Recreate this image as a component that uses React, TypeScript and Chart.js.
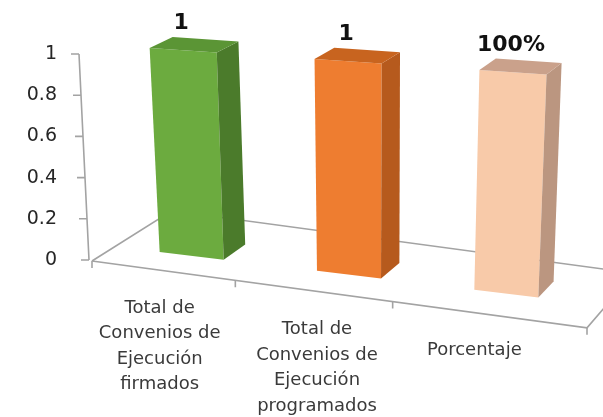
import React, { useEffect, useRef } from "react";
import { Chart, registerables } from "chart.js";

Chart.register(...registerables);

// ---- data ----
const categories: string[][] = [
  ["Total de", "Convenios de", "Ejecución", "firmados"],
  ["Total de", "Convenios de", "Ejecución", "programados"],
  ["Porcentaje"],
];
const values: number[] = [1, 1, 1];
const valueLabels: string[] = ["1", "1", "100%"];
const yTicks: number[] = [0, 0.2, 0.4, 0.6, 0.8, 1];

// ---- styles ----
const frontColors = ["#6cab3f", "#ee7d30", "#f8caa9"];
const sideColors = ["#4b7b2b", "#b65a1d", "#bb9680"];
const topColors = ["#5b9535", "#c8641f", "#caa18b"];
const FONT = '"DejaVu Sans", sans-serif';

type Pt = { x: number; y: number };

const box3d = {
  id: "box3d",
  beforeDatasetsDraw(chart: any) {
    const ctx: CanvasRenderingContext2D = chart.ctx;
    const area = chart.chartArea;
    const ys = chart.scales.y;
    const B = ys.getPixelForValue(0);
    const T = ys.getPixelForValue(1);
    const X1 = area.left + 47;
    const Xv = area.left + 255;
    const V: Pt = { x: area.right + 717, y: area.top - 554 };
    const k = 0.02;
    const P = (X: number, Y: number): Pt => {
      const t = (B - Y) / (B - T);
      const yb = B - 8 + 0.12 * (X - X1);
      const yt = T - 6 + 0.07 * (X - X1);
      return { x: X + 2 + t * 0.048 * (X - Xv), y: yb + t * (yt - yb) };
    };
    const D = (p: Pt): Pt => ({ x: k * (V.x - p.x), y: k * (V.y - p.y) });
    const add = (p: Pt, d: Pt, f = 1): Pt => ({ x: p.x + d.x * f, y: p.y + d.y * f });
    const poly = (pts: Pt[], fill: string) => {
      ctx.beginPath();
      ctx.moveTo(pts[0].x, pts[0].y);
      for (let i = 1; i < pts.length; i++) ctx.lineTo(pts[i].x, pts[i].y);
      ctx.closePath();
      ctx.fillStyle = fill;
      ctx.fill();
    };

    ctx.save();
    // floor
    const sF = 0.135;
    const O: Pt = { x: area.left - 19, y: B + 1 };
    const FR: Pt = { x: area.right + 4, y: O.y + sF * (area.right + 4 - O.x) };
    const BL = add(O, D(O), 3.3);
    const BR = add(FR, D(FR), 3.3);
    ctx.strokeStyle = "#a3a3a3";
    ctx.lineWidth = 1.6;
    ctx.beginPath();
    ctx.moveTo(O.x, O.y);
    ctx.lineTo(BL.x, BL.y);
    ctx.lineTo(BR.x, BR.y);
    ctx.lineTo(FR.x, FR.y);
    ctx.lineTo(O.x, O.y);
    ctx.stroke();
    // ticks on the front floor edge
    const tickXs = [O.x, FR.x];
    for (let i = 1; i < categories.length; i++) {
      tickXs.push(area.left + (i * area.width) / categories.length - 33);
    }
    ctx.beginPath();
    tickXs.forEach((tx) => {
      const ty = O.y + sF * (tx - O.x);
      ctx.moveTo(tx, ty);
      ctx.lineTo(tx, ty + 7);
    });
    ctx.stroke();

    // y axis (tilted)
    const axX = (y: number) => O.x - 3 - (10 * (B - y)) / (B - T);
    ctx.beginPath();
    ctx.moveTo(axX(B), B);
    ctx.lineTo(axX(T), T);
    yTicks.forEach((v) => {
      const ty = ys.getPixelForValue(v);
      ctx.moveTo(axX(ty) - 8, ty);
      ctx.lineTo(axX(ty), ty);
    });
    ctx.stroke();

    // bars
    const meta = chart.getDatasetMeta(0);
    meta.data.forEach((bar: any, i: number) => {
      const { x, y, base, width } = bar.getProps(["x", "y", "base", "width"], true);
      const xl = x - width / 2;
      const xr = x + width / 2;
      const fLB = P(xl, base), fRB = P(xr, base), fRT = P(xr, y), fLT = P(xl, y);
      const bRB = add(fRB, D(fRB)), bRT = add(fRT, D(fRT)), bLT = add(fLT, D(fLT));
      poly([fLB, fRB, fRT, fLT], frontColors[i]);
      poly([fRB, bRB, bRT, fRT], sideColors[i]);
      poly([fLT, fRT, bRT, bLT], topColors[i]);

      // value label
      const c = P(x, y);
      const cd = D(c);
      ctx.fillStyle = "#111";
      ctx.font = `bold 22px ${FONT}`;
      ctx.textAlign = "center";
      ctx.textBaseline = "middle";
      ctx.fillText(valueLabels[i], c.x - 2, c.y + cd.y - 16);

      // category label
      const lx = P(x, base).x - 32;
      const ly = O.y + sF * (lx - O.x) + 38;
      ctx.fillStyle = "#3a3a3a";
      ctx.font = `18px ${FONT}`;
      categories[i].forEach((line, j) => {
        ctx.fillText(line, lx, ly + j * 25.5);
      });
    });
    ctx.restore();
    return false;
  },
};

export default function App() {
  const ref = useRef<HTMLCanvasElement | null>(null);
  useEffect(() => {
    document.body.style.margin = "0";
    if (!ref.current) return;
    const chart = new Chart(ref.current, {
      type: "bar",
      data: {
        labels: categories,
        datasets: [
          {
            data: values,
            backgroundColor: frontColors,
            barPercentage: 0.407,
            categoryPercentage: 1,
          },
        ],
      },
      options: {
        responsive: false,
        maintainAspectRatio: false,
        animation: false,
        layout: { padding: { left: 0, right: 20, top: 54, bottom: 157 } },
        plugins: { legend: { display: false }, tooltip: { enabled: false } },
        scales: {
          x: { display: false },
          y: {
            min: 0,
            max: 1,
            afterFit: (s: any) => {
              s.width = 111;
              s.paddingTop = 11;
              s.paddingBottom = 11;
            },
            afterBuildTicks: (s: any) => {
              s.ticks = yTicks.map((v) => ({ value: v }));
            },
            grid: { display: false, drawTicks: false },
            border: { display: false },
            ticks: {
              padding: 54,
              color: "#262626",
              font: { family: FONT, size: 19 },
              callback: (v: any) => String(v),
            },
          },
        },
      },
      plugins: [box3d],
    });
    return () => chart.destroy();
  }, []);
  return (
    <div style={{ width: 603, height: 417, background: "#fff" }}>
      <canvas ref={ref} width={603} height={417} style={{ display: "block" }} />
    </div>
  );
}
